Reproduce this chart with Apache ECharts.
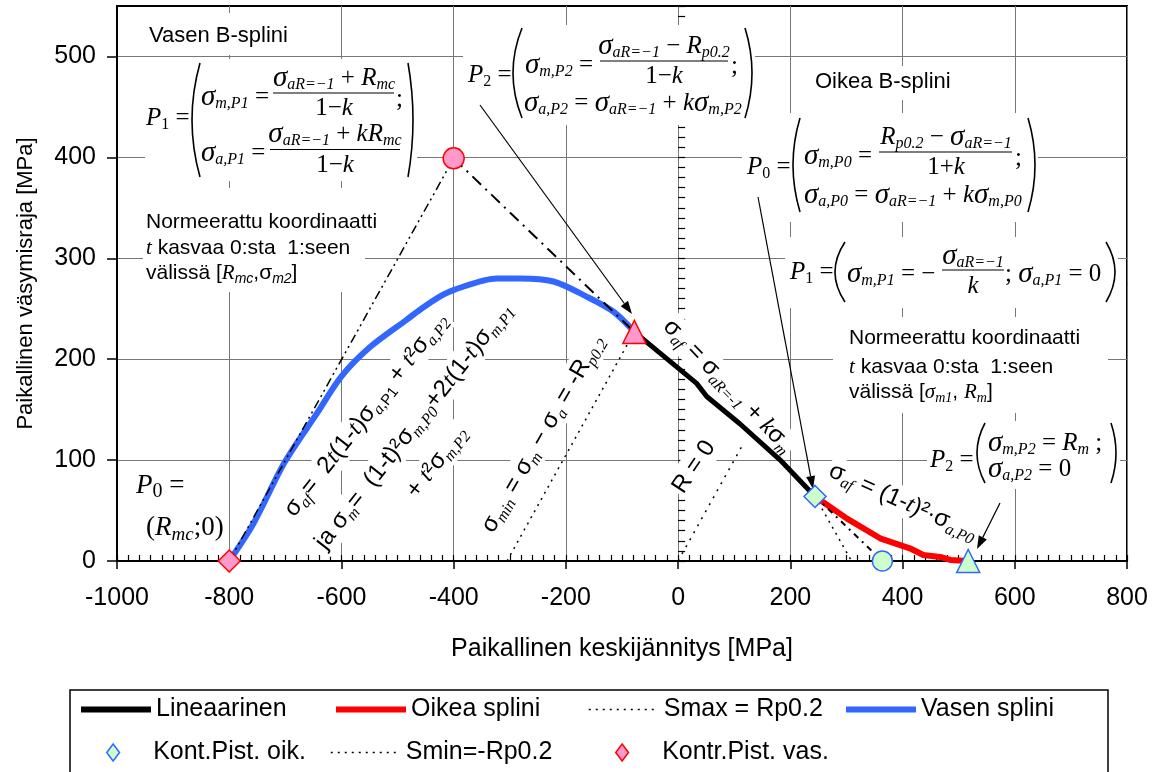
<!DOCTYPE html>
<html><head><meta charset="utf-8">
<script src="https://cdn.jsdelivr.net/npm/echarts@6/dist/echarts.min.js"></script>
<style>html,body{margin:0;padding:0;background:#fff}#c{width:1157px;height:772px}</style>
</head><body><div id="c"></div>
<script>
// ---------- data ----------
const xTicks = [-1000, -800, -600, -400, -200, 0, 200, 400, 600, 800];
const yTicks = [0, 100, 200, 300, 400, 500];
// Vasen splini (blue)
const leftSplineX = [-800, -757, -701, -644, -600, -549, -484, -460, -425, -398, -323, -282, -222, -163, -115, -78];
const leftSplineY = [0, 37, 98, 146, 183, 212, 239, 249, 262, 269, 280, 280, 277, 262, 247, 227];
// Lineaarinen (black)
const linearX = [-78, 33, 51, 110, 182, 244];
const linearY = [227, 176, 163, 136, 100, 64];
// Oikea splini (red)
const rightSplineX = [244, 301, 360, 413, 437, 467, 485, 517];
const rightSplineY = [64, 42, 22.5, 12.6, 6, 4, 1, 0];
// Smax = Rp0.2 and Smin = -Rp0.2
const smaxX = [244, 309];
const smaxY = [64, 0];
const sminX = [-305, -78];
const sminY = [0, 227];
// R = 0
const rZeroX = [0, 117];
const rZeroY = [0, 117];
// control points
const ctrlLeftX = [-800, -400, -78];
const ctrlLeftY = [0, 399, 227];
const ctrlRightX = [244, 364, 517];
const ctrlRightY = [64, 0, 0];

// ---------- helpers ----------
const SERIF = '"Liberation Serif","Times New Roman",serif';
const SANS = '"Liberation Sans",Arial,Helvetica,sans-serif';
function zip(xs, ys) { return xs.map((x, i) => [x, ys[i]]); }
function st(o) { return Object.assign({ fill: '#000' }, o); }
const MR = {
  v: st({ fontFamily: SERIF, fontStyle: 'italic', fontSize: 25, lineHeight: 30 }),
  g: st({ fontFamily: SERIF, fontStyle: 'italic', fontSize: 29, lineHeight: 30 }),
  r: st({ fontFamily: SERIF, fontSize: 25, lineHeight: 30 }),
  s: st({ fontFamily: SERIF, fontStyle: 'italic', fontSize: 16, lineHeight: 12, verticalAlign: 'bottom' }),
  u: st({ fontFamily: SERIF, fontSize: 16, lineHeight: 12, verticalAlign: 'bottom' }),
  vb: st({ fontFamily: SERIF, fontStyle: 'italic', fontSize: 27, lineHeight: 32 }),
  rb: st({ fontFamily: SERIF, fontSize: 27, lineHeight: 32 }),
  ub: st({ fontFamily: SERIF, fontSize: 20, lineHeight: 16, verticalAlign: 'bottom' }),
  sb: st({ fontFamily: SERIF, fontStyle: 'italic', fontSize: 19, lineHeight: 16, verticalAlign: 'bottom' })
};
function LR(size) {
  const sub = Math.round(size * 0.67), lh = Math.round(size * 0.5);
  return {
    n: st({ fontFamily: SANS, fontSize: size, lineHeight: size + 6 }),
    t: st({ fontFamily: SERIF, fontStyle: 'italic', fontSize: size, lineHeight: size + 6 }),
    s: st({ fontFamily: SERIF, fontStyle: 'italic', fontSize: sub, lineHeight: lh, verticalAlign: 'bottom' }),
    ss: st({ fontFamily: SANS, fontSize: Math.round(size * 0.62), lineHeight: lh, verticalAlign: 'bottom' }),
    si: st({ fontFamily: SANS, fontStyle: 'italic', fontSize: sub, lineHeight: lh, verticalAlign: 'bottom' })
  };
}
function T(x, y, text, rich, align) {
  return { type: 'text', z: 1, x: x, y: y,
    style: { text: text, rich: rich, fill: '#000', align: align || 'left', textAlign: align || 'left',
      verticalAlign: 'middle', textVerticalAlign: 'middle', font: '24px ' + SERIF } };
}
function RL(cx, cy, deg, text) {
  const e = T(cx, cy, text, LR(24), 'center');
  e.rotation = deg * Math.PI / 180;
  e.style.backgroundColor = '#fff';
  e.style.padding = [0, 2];
  return e;
}
function W(x, y, w, h) { return { type: 'rect', z: 1, shape: { x: x, y: y, width: w, height: h }, style: { fill: '#fff' } }; }
function L(x1, y1, x2, y2, w) { return { type: 'line', z: 1, shape: { x1: x1, y1: y1, x2: x2, y2: y2 }, style: { stroke: '#000', lineWidth: w || 1.2 } }; }
function P(x, y1, y2, b) {
  return { type: 'bezierCurve', z: 1, shape: { x1: x, y1: y1, x2: x, y2: y2, cpx1: x + 2 * b, cpy1: (y1 + y2) / 2 },
    style: { stroke: '#000', lineWidth: 1.6, fill: 'none' } };
}
function A(x1, y1, x2, y2) {
  const dx = x2 - x1, dy = y2 - y1, len = Math.hypot(dx, dy), ux = dx / len, uy = dy / len;
  const hl = 13, hw = 4.5, bx = x2 - ux * hl, by = y2 - uy * hl;
  return [L(x1, y1, bx, by, 1.2),
    { type: 'polygon', z: 1, shape: { points: [[x2, y2], [bx - uy * hw, by + ux * hw], [bx + uy * hw, by - ux * hw]] }, style: { fill: '#000' } }];
}

// ---------- annotations ----------
const G = [];
G.push(W(135, 13, 185, 42), W(145, 59, 272, 122), W(143, 188, 222, 104), W(463, 25, 292, 100),
  W(808, 66, 160, 34), W(742, 113, 296, 109), W(785, 237, 333, 71), W(833, 317, 275, 96), W(927, 421, 193, 68));
G.push(T(149, 36, '{n|Vasen B-splini}', LR(22)));
G.push(T(815, 82, '{n|Oikea B-splini}', LR(22)));
G.push(T(146, 222, '{n|Normeerattu koordinaatti}', LR(21)));
G.push(T(146, 248, '{t|t}{n| kasvaa 0:sta  1:seen}', LR(21)));
G.push(T(146, 273, '{n|välissä [}{t|R}{si|mc}{n|,σ}{si|m2}{n|]}', LR(21)));
G.push(T(849, 338, '{n|Normeerattu koordinaatti}', LR(21)));
G.push(T(849, 367, '{t|t}{n| kasvaa 0:sta  1:seen}', LR(21)));
G.push(T(849, 392, '{n|välissä [}{t|σ}{s|m1}{n|, }{t|R}{s|m}{n|]}', LR(21)));
// P1 (left)
G.push(T(146, 118, '{v|P}{u|1}{r| =}', MR));
G.push(P(200, 63, 177, -8), P(408, 63, 177, 5));
G.push(T(201, 97, '{g|σ}{s|m,P1}{r| =}', MR));
G.push(T(334, 78, '{g|σ}{s|aR=−1}{r| + }{v|R}{s|mc}', MR, 'center'));
G.push(L(273, 93, 394, 93));
G.push(T(334, 108, '{r|1−}{v|k}', MR, 'center'));
G.push(T(396, 99, '{r|;}', MR));
G.push(T(201, 153, '{g|σ}{s|a,P1}{r| =}', MR));
G.push(T(335, 134, '{g|σ}{s|aR=−1}{r| + }{v|kR}{s|mc}', MR, 'center'));
G.push(L(270, 149.5, 400, 149.5));
G.push(T(335, 165, '{r|1−}{v|k}', MR, 'center'));
// P2 (left)
G.push(T(468, 75, '{v|P}{u|2}{r| =}', MR));
G.push(P(522, 28, 118, -9), P(745, 28, 118, 7));
G.push(T(525, 65, '{g|σ}{s|m,P2}{r| =}', MR));
G.push(T(664, 46, '{g|σ}{s|aR=−1}{r| − }{v|R}{s|p0.2}', MR, 'center'));
G.push(L(600, 61, 728, 61));
G.push(T(664, 76, '{r|1−}{v|k}', MR, 'center'));
G.push(T(731, 66, '{r|;}', MR));
G.push(T(524, 103, '{g|σ}{s|a,P2}{r| = }{g|σ}{s|aR=−1}{r| + }{v|k}{g|σ}{s|m,P2}', MR));
// P0 (right)
G.push(T(747, 167, '{v|P}{u|0}{r| =}', MR));
G.push(P(800, 118, 212, -7), P(1028, 118, 212, 7));
G.push(T(804, 156, '{g|σ}{s|m,P0}{r| =}', MR));
G.push(T(946, 137, '{v|R}{s|p0.2}{r| − }{g|σ}{s|aR=−1}', MR, 'center'));
G.push(L(879, 152, 1012, 152));
G.push(T(946, 167, '{r|1+}{v|k}', MR, 'center'));
G.push(T(1015, 158, '{r|;}', MR));
G.push(T(804, 195, '{g|σ}{s|a,P0}{r| = }{g|σ}{s|aR=−1}{r| + }{v|k}{g|σ}{s|m,P0}', MR));
// P1 (right)
G.push(T(790, 272, '{v|P}{u|1}{r| =}', MR));
G.push(P(845, 242, 302, -10), P(1106, 242, 302, 9));
G.push(T(847, 274, '{g|σ}{s|m,P1}{r| = −}', MR));
G.push(T(973, 256, '{g|σ}{s|aR=−1}', MR, 'center'));
G.push(L(942, 270, 1004, 270));
G.push(T(973, 286, '{v|k}', MR, 'center'));
G.push(T(1005, 274, '{r|; }{g|σ}{s|a,P1}{r| = 0}', MR));
// P2 (right)
G.push(T(930, 460, '{v|P}{u|2}{r| =}', MR));
G.push(P(985, 423, 483, -8), P(1111, 423, 483, 5));
G.push(T(988, 443, '{g|σ}{s|m,P2}{r| = }{v|R}{s|m}{r| ;}', MR));
G.push(T(988, 469, '{g|σ}{s|a,P2}{r| = 0}', MR));
// P0 (left)
G.push(T(136, 486, '{vb|P}{ub|0}{rb| =}', MR));
G.push(T(146, 528, '{rb|(}{vb|R}{sb|mc}{rb|;0)}', MR));
// arrows
G.push(...A(480, 105, 632, 314));
G.push(...A(758, 197, 813, 489));
G.push(...A(1000, 503, 977, 549));
// rotated labels
G.push(RL(366, 415, 52, '{n|σ}{s|af}{n|=  2}{t|t}{n|(1-}{t|t}{n|)σ}{s|a,}{ss|P1}{n| + }{t|t}{n|²σ}{s|a,P2}'));
G.push(RL(414, 426, 52, '{n|ja σ}{s|m}{n|=  (1-t)²σ}{s|m,P0}{n|+2}{t|t}{n|(1-}{t|t}{n|)σ}{s|m,P1}'));
G.push(RL(437, 462, 52, '{n|+ }{t|t}{n|²σ}{s|m,P2}'));
G.push(RL(543, 434, 60, '{n|σ}{s|min}{n| = σ}{s|m}{n| − σ}{s|a}{n| = -R}{s|p0.2}'));
G.push(RL(694, 467, 56, '{n|R = 0}'));
G.push(RL(728, 386, -46, '{n|σ}{s|af}{n| = σ}{s|aR=-1}{n| + }{t|k}{n|σ}{s|m}'));
G.push(RL(903, 502, -24, '{n|σ}{s|af}{n| = (1-}{t|t}{n|)²·σ}{s|a,P0}'));
// legend frame
G.push({ type: 'rect', z: 1, shape: { x: 70, y: 690, width: 1038, height: 100 }, style: { fill: 'none', stroke: '#000', lineWidth: 1.5 } });

// ---------- chart ----------
const DIAMOND = 'path://M6,0L12,8L6,16L0,8Z';
const legendBase = { orient: 'horizontal', itemGap: 0, padding: 0, itemWidth: 70, itemHeight: 14, selectedMode: false,
  textStyle: { fontSize: 25, fontFamily: SANS, color: '#000' } };
function lg(o) { return Object.assign({}, legendBase, o); }
const leftSymbols = ['diamond', 'circle', 'triangle'];
const leftSizes = [22, 21, 23];
const rightSizes = [22, 20, 23];

const chart = echarts.init(document.getElementById('c'), null, { renderer: 'canvas' });
chart.setOption({
  animation: false,
  backgroundColor: '#fff',
  grid: { left: 117, right: 30, top: 6, bottom: 211, show: true, borderColor: '#000', borderWidth: 2 },
  xAxis: [{
    type: 'value', min: -1000, max: 800, interval: 200, position: 'bottom',
    axisLine: { show: true, onZero: false, lineStyle: { color: '#000', width: 2 } },
    axisTick: { show: true, inside: false, length: 8, lineStyle: { color: '#000', width: 1.5 } },
    axisLabel: { fontSize: 25, fontFamily: SANS, color: '#000', margin: 25, customValues: xTicks, formatter: v => String(v) },
    splitLine: { show: true, lineStyle: { color: '#777', width: 1 } },
    name: 'Paikallinen keskijännitys [MPa]', nameLocation: 'middle', nameGap: 76,
    nameTextStyle: { fontSize: 25, fontFamily: SANS, color: '#000' }
  }, {
    type: 'value', min: -1000, max: 800, interval: 20, position: 'bottom',
    axisLine: { show: false }, axisLabel: { show: false }, splitLine: { show: false },
    axisTick: { show: true, inside: true, length: 6, lineStyle: { color: '#000', width: 1.2 } }
  }],
  yAxis: [{
    type: 'value', min: 0, max: 550, interval: 100, position: 'left',
    axisLine: { show: true, onZero: false, lineStyle: { color: '#000', width: 2 } },
    axisTick: { show: true, inside: false, length: 10, customValues: yTicks, lineStyle: { color: '#000', width: 1.5 } },
    axisLabel: { fontSize: 25, fontFamily: SANS, color: '#000', margin: 21, customValues: yTicks, formatter: v => String(v) },
    splitLine: { show: true, lineStyle: { color: '#777', width: 1 } },
    name: 'Paikallinen väsymisraja [MPa]', nameLocation: 'middle', nameGap: 80,
    nameTextStyle: { fontSize: 22, fontFamily: SANS, color: '#000' }
  }, {
    type: 'value', min: 0, max: 550, interval: 10, position: 'left',
    axisLine: { show: false }, axisLabel: { show: false }, splitLine: { show: false },
    axisTick: { show: true, inside: true, length: 7, lineStyle: { color: '#000', width: 1.2 } }
  }],
  legend: [
    lg({ left: 78, top: 697, data: ['Lineaarinen'], lineStyle: { width: 6 }, itemStyle: { opacity: 0 } }),
    lg({ left: 333, top: 697, data: ['Oikea splini'], lineStyle: { width: 6 }, itemStyle: { opacity: 0 } }),
    lg({ left: 588, top: 697, data: ['Smax = Rp0.2'], lineStyle: { width: 1.5 }, itemStyle: { opacity: 0 } }),
    lg({ left: 843, top: 697, data: ['Vasen splini'], lineStyle: { width: 6 }, itemStyle: { opacity: 0 } }),
    lg({ left: 106, top: 740, itemHeight: 17, data: [{ name: 'Kont.Pist. oik.', icon: DIAMOND }], itemStyle: { borderWidth: 1.5 } }),
    lg({ left: 330, top: 740, data: ['Smin=-Rp0.2'], lineStyle: { width: 1.5 }, itemStyle: { opacity: 0 } }),
    lg({ left: 615, top: 740, itemHeight: 17, data: [{ name: 'Kontr.Pist. vas.', icon: DIAMOND }], itemStyle: { borderWidth: 1.5 } })
  ],
  graphic: { elements: G },
  series: [
    { name: 'Vasen splini', type: 'line', data: zip(leftSplineX, leftSplineY), symbol: 'none', smooth: 0.3, lineStyle: { color: '#3366FF', width: 6 }, itemStyle: { color: '#3366FF' } },
    { name: 'Lineaarinen', type: 'line', data: zip(linearX, linearY), symbol: 'none', lineStyle: { color: '#000', width: 5 }, itemStyle: { color: '#000' } },
    { name: 'Oikea splini', type: 'line', data: zip(rightSplineX, rightSplineY), symbol: 'none', lineStyle: { color: '#FF0000', width: 6 }, itemStyle: { color: '#FF0000' } },
    { name: 'Smax = Rp0.2', type: 'line', data: zip(smaxX, smaxY), symbol: 'none', lineStyle: { color: '#000', width: 1.5, type: [2, 5] }, itemStyle: { color: '#000' } },
    { name: 'Smin=-Rp0.2', type: 'line', data: zip(sminX, sminY), symbol: 'none', lineStyle: { color: '#000', width: 1.5, type: [2, 5] }, itemStyle: { color: '#000' } },
    { name: 'R=0', type: 'line', data: zip(rZeroX, rZeroY), symbol: 'none', lineStyle: { color: '#000', width: 1.5, type: [2, 6] } },
    { name: 'ctrlL1', type: 'line', data: zip(ctrlLeftX.slice(0, 2), ctrlLeftY.slice(0, 2)), symbol: 'none', lineStyle: { color: '#000', width: 1.5, type: [9, 4, 2, 4, 2, 4] } },
    { name: 'ctrlL2', type: 'line', data: zip(ctrlLeftX.slice(1), ctrlLeftY.slice(1)), symbol: 'none', lineStyle: { color: '#000', width: 2, type: [12, 6, 2, 6] } },
    { name: 'ctrlR', type: 'line', data: zip(ctrlRightX.slice(0, 2), ctrlRightY.slice(0, 2)), symbol: 'none', lineStyle: { color: '#000', width: 2, type: [6, 5, 2, 5] } },
    { name: 'Kontr.Pist. vas.', type: 'scatter', z: 3,
      data: zip(ctrlLeftX, ctrlLeftY).map((p, i) => ({ value: p, symbol: leftSymbols[i], symbolSize: leftSizes[i] })),
      itemStyle: { color: '#FF99CC', borderColor: '#FF0000', borderWidth: 1.5, opacity: 1 } },
    { name: 'Kont.Pist. oik.', type: 'scatter', z: 3,
      data: zip(ctrlRightX, ctrlRightY).map((p, i) => ({ value: p, symbol: leftSymbols[i], symbolSize: rightSizes[i] })),
      itemStyle: { color: '#CCFFCC', borderColor: '#3366FF', borderWidth: 1.5, opacity: 1 } }
  ]
});
</script>
</body></html>
